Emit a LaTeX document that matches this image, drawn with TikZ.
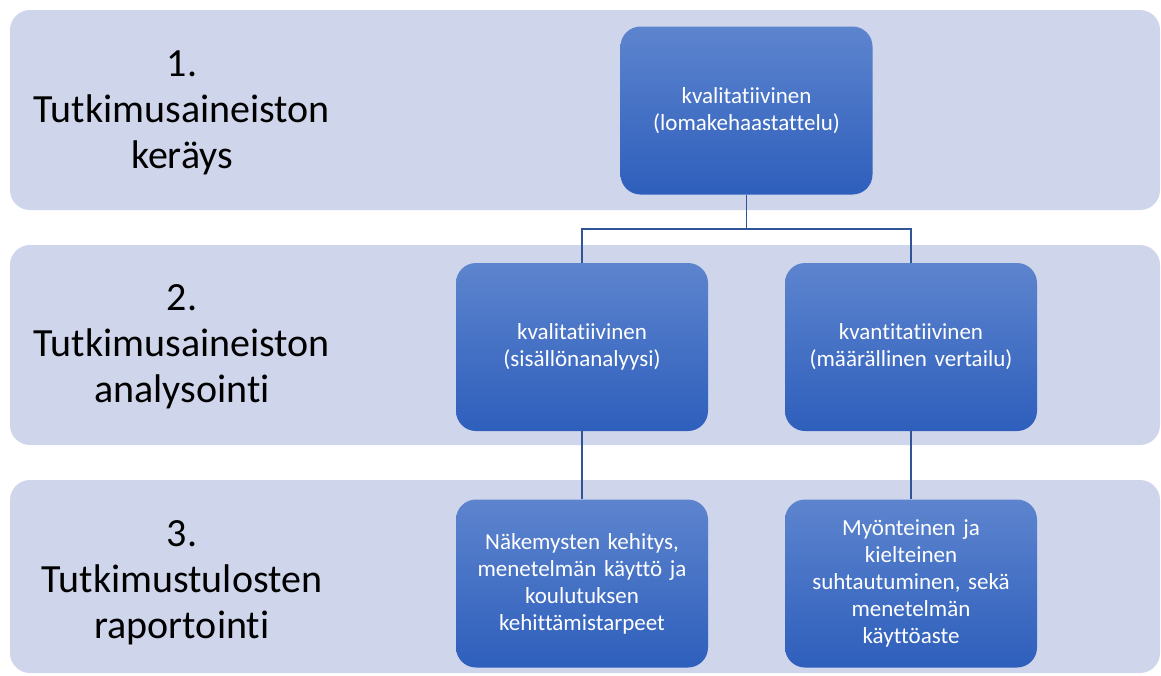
\documentclass[tikz,border=0pt]{standalone}
\usepackage{fontspec}
\setmainfont[Ligatures=NoCommon]{Carlito}
\definecolor{bandfill}{HTML}{CFD5EA}
\definecolor{boxtop}{HTML}{5D84CE}
\definecolor{boxbot}{HTML}{2E5FBC}
\definecolor{linec}{HTML}{2F5597}
\tikzset{
  band/.style={fill=bandfill, rounded corners=20pt, minimum width=1150pt, inner sep=0pt},
  bandlabel/.style={text=black, align=center, font=\fontsize{40}{46}\selectfont, inner sep=0pt},
  bluebox/.style={top color=boxtop, bottom color=boxbot, rounded corners=20pt, minimum width=252pt, minimum height=168pt, text width=240pt, align=center, text=white, font=\fontsize{23}{27}\selectfont, inner sep=0pt},
  conn/.style={draw=linec, line width=1.3pt}
}
\begin{document}
\begin{tikzpicture}[x=1pt,y=-1pt]
\useasboundingbox (0,0) rectangle (1161,675);
\node[band, minimum height=200pt] (b1) at (585,110) {};
\node[band, minimum height=200pt] (b2) at (585,345) {};
\node[band, minimum height=193pt] (b3) at (585,576.5) {};
\node[bandlabel] (l1) at (182,113) {1.\\Tutkimusaineiston\\keräys};
\node[bandlabel] (l2) at (182,347) {2.\\Tutkimusaineiston\\analysointi};
\node[bandlabel] (l3) at (182,583) {3.\\Tutkimustulosten\\raportointi};
\node[bluebox] (top) at (746.5,110.5) {kvalitatiivinen\\(lomakehaastattelu)};
\node[bluebox] (ml) at (582,347) {kvalitatiivinen\\(sisällönanalyysi)};
\node[bluebox] (mr) at (911,347) {kvantitatiivinen\\(määrällinen vertailu)};
\node[bluebox] (bl) at (582,583.5) {Näkemysten kehitys,\\menetelmän käyttö ja\\koulutuksen\\kehittämistarpeet};
\node[bluebox] (br) at (911,583.5) {Myönteinen ja\\kielteinen\\suhtautuminen, sekä\\menetelmän\\käyttöaste};
\coordinate (j) at (746.5,229);
\draw[conn] (top.south) -- (j) -| (ml.north);
\draw[conn] (j) -| (mr.north);
\draw[conn] (ml.south) -- (bl.north);
\draw[conn] (mr.south) -- (br.north);
\end{tikzpicture}
\end{document}
